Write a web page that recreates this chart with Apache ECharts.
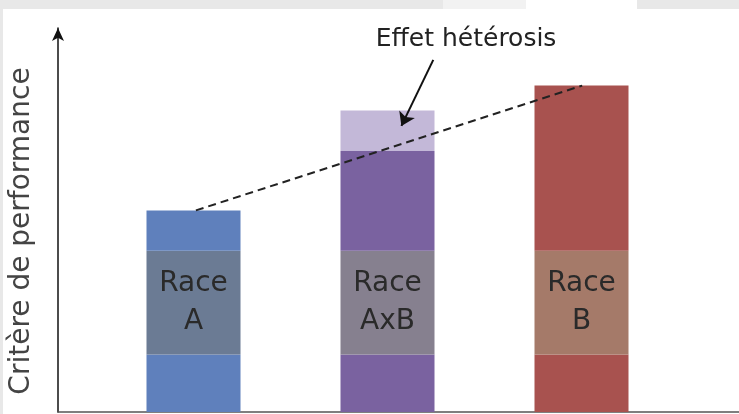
<!DOCTYPE html>
<html>
<head>
<meta charset="utf-8">
<script src="https://cdn.jsdelivr.net/npm/echarts@6/dist/echarts.min.js"></script>
<style>html,body{margin:0;padding:0;background:#fff;}#c{width:739px;height:414px;}</style>
</head>
<body>
<div id="c"></div>
<script>
// ---- data ----
const categories = ['A', 'AxB', 'B'];
const performance = [52.5, 68, 85];      // performance of each breed / cross
const heterosis = [0, 10.5, 0];          // heterosis effect on top of AxB
const bandLow = 15, bandHigh = 42;       // label band range
const barColors = ['#5f80bc', '#7a62a0', '#a8524f'];
const bandColors = ['#6b7b94', '#86808f', '#a57a69'];
const heteroColor = '#c3b8d8';

const chart = echarts.init(document.getElementById('c'));
const font = 'DejaVu Sans, Verdana, sans-serif';

function seg(vals, colors, withLabel) {
  return vals.map((v, i) => ({
    value: v,
    itemStyle: { color: colors[i] },
    label: withLabel ? {
      show: true, position: 'inside', formatter: 'Race\n' + categories[i],
      fontSize: 28, lineHeight: 38, color: '#2a2a2a', fontFamily: font
    } : { show: false }
  }));
}

const s1 = performance.map(() => bandLow);
const s2 = performance.map(() => bandHigh - bandLow);
const s3 = performance.map(p => p - bandHigh);

// grid 0: axis frame (left 55, right 0); grid 1: bars
const band = 194, barGridLeft = 96.5;
const xMin0 = -0.5 - (barGridLeft - 55) / band;
const xMax0 = xMin0 + 684 / band;

chart.setOption({
  animation: false,
  backgroundColor: '#ffffff',
  graphic: [
    { type: 'rect', shape: { x: 0, y: 0, width: 443, height: 9 }, style: { fill: '#e8e8e8' }, z: 100 },
    { type: 'rect', shape: { x: 443, y: 0, width: 83, height: 9 }, style: { fill: '#f2f2f2' }, z: 100 },
    { type: 'rect', shape: { x: 637, y: 0, width: 102, height: 9 }, style: { fill: '#e8e8e8' }, z: 100 },
    { type: 'rect', shape: { x: 0, y: 0, width: 3, height: 414 }, style: { fill: '#e8e8e8' }, z: 100 }
  ],
  grid: [
    { left: 55, right: 0, top: 28, bottom: 2 },
    { left: barGridLeft, right: 739 - barGridLeft - 3 * band, top: 28, bottom: 2 }
  ],
  xAxis: [
    { type: 'value', gridIndex: 0, min: xMin0, max: xMax0,
      axisLine: { show: true, onZero: false, lineStyle: { color: '#555', width: 1.5 } },
      axisTick: { show: false }, axisLabel: { show: false }, splitLine: { show: false } },
    { type: 'category', gridIndex: 1, data: categories, show: false }
  ],
  yAxis: [
    { type: 'value', gridIndex: 0, min: 0, max: 100,
      name: 'Critère de performance', nameLocation: 'middle', nameRotate: 90, nameGap: 22,
      nameTextStyle: { fontSize: 28, color: '#444', fontFamily: font, padding: [0, 22, 0, 0] },
      axisLine: { show: true, onZero: false, symbol: ['none', 'arrow'], symbolSize: [9, 13], lineStyle: { color: '#111', width: 1.5 } },
      axisTick: { show: false }, axisLabel: { show: false }, splitLine: { show: false } },
    { type: 'value', gridIndex: 1, min: 0, max: 100, show: false }
  ],
  series: [
    { type: 'bar', xAxisIndex: 1, yAxisIndex: 1, stack: 'p', barWidth: 94, data: seg(s1, barColors, false) },
    { type: 'bar', xAxisIndex: 1, yAxisIndex: 1, stack: 'p', barWidth: 94, data: seg(s2, bandColors, true) },
    { type: 'bar', xAxisIndex: 1, yAxisIndex: 1, stack: 'p', barWidth: 94, data: seg(s3, barColors, false) },
    { type: 'bar', xAxisIndex: 1, yAxisIndex: 1, stack: 'p', barWidth: 94,
      data: heterosis.map(v => ({ value: v, itemStyle: { color: heteroColor } })) },
    {
      type: 'line', xAxisIndex: 0, yAxisIndex: 0, symbol: 'none', silent: true, z: 5,
      lineStyle: { color: '#222', width: 2, type: [8, 5] },
      data: [[0, performance[0]], [2, performance[2]]],
      markLine: {
        silent: true, symbol: ['none', 'arrow'], symbolSize: 13,
        lineStyle: { color: '#111', width: 2, type: 'solid' }, label: { show: false },
        data: [[{ coord: [1.229, 91.7] }, { coord: [1.064, performance[1] + heterosis[1] * 0.62] }]]
      },
      markPoint: {
        silent: true, symbol: 'circle', symbolSize: 1, itemStyle: { color: 'rgba(0,0,0,0)' },
        label: { show: true, position: 'inside', formatter: 'Effet hétérosis', fontSize: 25, color: '#222', fontFamily: font },
        data: [{ coord: [1.399, 97] }]
      }
    }
  ]
});
</script>
</body>
</html>
